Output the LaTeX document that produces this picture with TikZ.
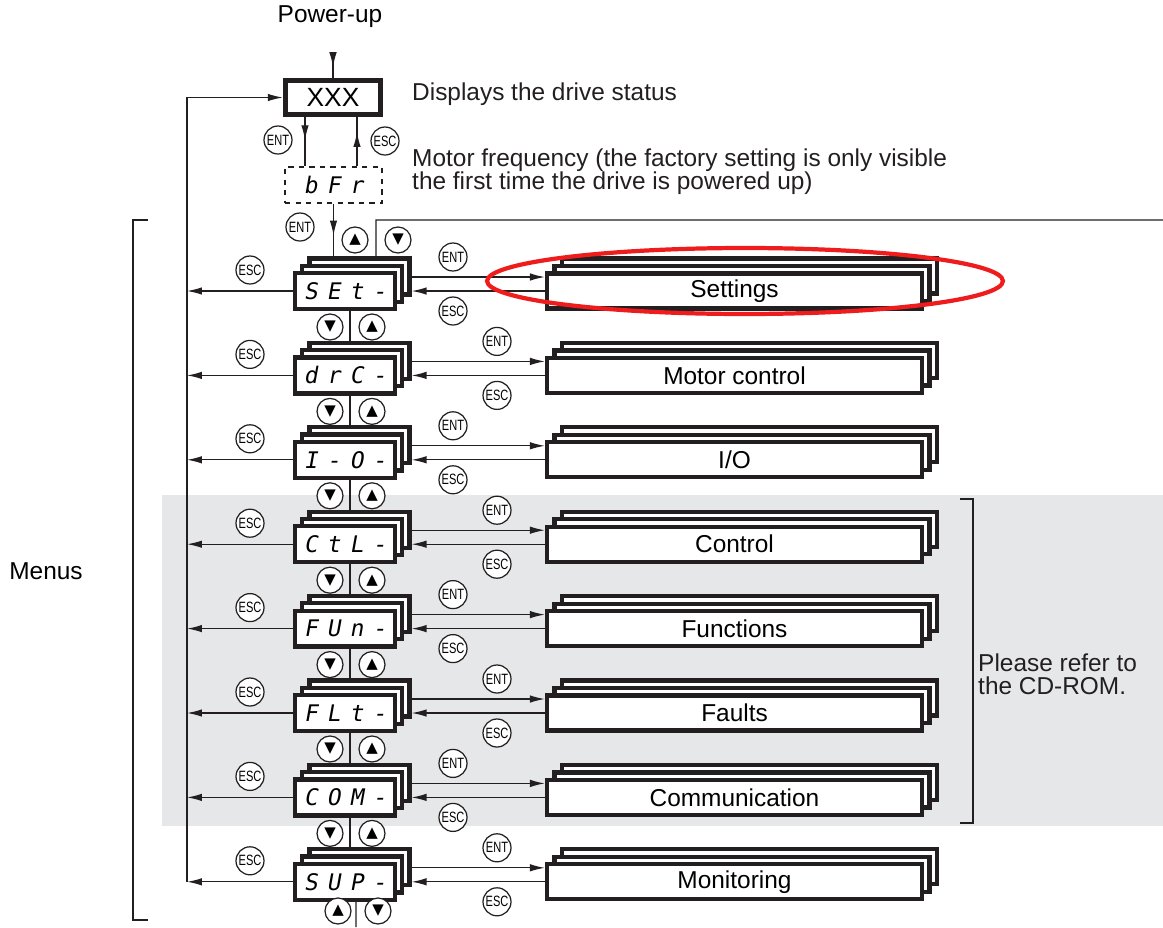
\documentclass[tikz,border=0pt]{standalone}
\usepackage{fontspec}
\setmainfont{Liberation Sans}
\newfontfamily\segfont[FakeSlant=0.18,LetterSpace=40]{DejaVu Sans Mono}
\newfontfamily\keyfont[FakeStretch=0.74]{Liberation Sans}
\newfontfamily\symfont{DejaVu Sans}
\usetikzlibrary{arrows.meta,positioning,backgrounds,decorations.markings}
\definecolor{panelGray}{HTML}{E6E7E8}
\definecolor{markRed}{HTML}{EE1C1C}
\definecolor{lineDark}{HTML}{231F20}

\begin{document}
\begin{tikzpicture}[
    x=0.02cm, y=-0.02cm,
    font=\fontsize{13.9}{13.2}\selectfont,
    >={Latex[length=0.3cm,width=0.15cm]},
    layered/.style={
        preaction={draw=lineDark, fill=white, line width=2.4pt,
                   transform canvas={xshift=2*#1, yshift=2*#1}},
        preaction={draw=lineDark, fill=white, line width=2.4pt,
                   transform canvas={xshift=#1, yshift=#1}}
    },
    displayNode/.style={
        rectangle, draw=lineDark, line width=3pt, fill=white,
        minimum width=1.9cm, minimum height=0.68cm, inner sep=0pt,
        font=\fontsize{15}{15}\selectfont
    },
    freqNode/.style={
        rectangle, draw=lineDark, line width=0.7pt, dashed, fill=white,
        minimum width=1.94cm, minimum height=0.72cm, inner sep=0pt,
        font=\segfont\fontsize{13}{13}\selectfont
    },
    menuNode/.style={
        rectangle, draw=lineDark, line width=2.4pt, fill=white,
        minimum width=2.0cm, minimum height=0.72cm, inner sep=0pt,
        font=\segfont\fontsize{13}{13}\selectfont,
        layered=0.145cm
    },
    subNode/.style={
        rectangle, draw=lineDark, line width=2.4pt, fill=white,
        minimum width=7.5cm, minimum height=0.7cm, inner sep=0pt,
        layered=0.15cm
    },
    keyNode/.style={
        circle, draw=lineDark, line width=0.7pt, fill=white,
        minimum size=0.56cm, inner sep=0pt,
        font=\keyfont\fontsize{8.5}{8.5}\selectfont
    },
    navKey/.style={
        circle, draw=lineDark, line width=0.7pt, fill=white,
        minimum size=0.52cm, inner sep=0pt,
        font=\symfont\fontsize{8.5}{8.5}\selectfont
    },
    textNote/.style={anchor=west, align=left, text=lineDark},
    flow/.style={->, line width=0.75pt, draw=lineDark},
    link/.style={line width=0.75pt, draw=lineDark},
    tipAt/.style={
        link,
        decoration={markings, mark=at position #1 with {\arrow{Latex[length=0.3cm,width=0.15cm]}}},
        postaction={decorate}
    }
]
\useasboundingbox (0,0) rectangle (1163,927);

% grey band: menus that are described on the CD-ROM
\begin{scope}[on background layer]
  \fill[panelGray] (162,495) rectangle (1163,826);
\end{scope}

% power-up and drive status
\node (powerUp) at (330,17) {Power-up};
\node[displayNode] (XXX) at (333,97.5) {XXX};
\node[textNote] (statusNote) at (406,94) {Displays the drive status};
\node[freqNode] (bFr) at (333.5,185) {bFr};
\node[textNote] (freqNote) at (406,172)
  {Motor frequency (the factory setting is only visible\\the first time the drive is powered up)};

\node[keyNode] (entTop) at (278,140) {ENT};
\node[keyNode] (escTop) at (385,141) {ESC};
\node[keyNode] (entFreq) at (300,227) {ENT};
\node[navKey] (upTop) at (355,240) {▲};
\node[navKey] (dnTop) at (398,240) {▼};

% menu displays and their sub-menus
\node[menuNode] (mSET) at (345,291) {SEt-};
\node[menuNode] (mDRC) at (345,375.4) {drC-};
\node[menuNode] (mIO) at (345,459.8) {I-O-};
\node[menuNode] (mCTL) at (345,544.2) {CtL-};
\node[menuNode] (mFUN) at (345,628.6) {FUn-};
\node[menuNode] (mFLT) at (345,713) {FLt-};
\node[menuNode] (mCOM) at (345,797.4) {COM-};
\node[menuNode] (mSUP) at (345,881.8) {SUP-};

\node[subNode] (sSET) at (734.5,291) {Settings};
\node[subNode] (sDRC) at (734.5,375.4) {Motor control};
\node[subNode] (sIO) at (734.5,459.8) {I/O};
\node[subNode] (sCTL) at (734.5,544.2) {Control};
\node[subNode] (sFUN) at (734.5,628.6) {Functions};
\node[subNode] (sFLT) at (734.5,713) {Faults};
\node[subNode] (sCOM) at (734.5,797.4) {Communication};
\node[subNode] (sSUP) at (734.5,881.8) {Monitoring};

\node[navKey] (upEnd) at (338,911) {▲};
\node[navKey] (dnEnd) at (378,911) {▼};

\node (menusLabel) at (46,571) {Menus};
\node[textNote] (cdNote) at (972,674) {Please refer to\\the CD-ROM.};

\coordinate (railTop) at (187,97.5);
\coordinate (railBot) at (mSUP.west -| railTop);
\coordinate (loopTop) at (376,220);
\coordinate (loopEnd) at (1163,220);
\coordinate (bottomEnd) at (356,927);

% start-up path
\draw[tipAt=0.55] ([yshift=-0.4cm]powerUp.south -| XXX.north) -- (XXX.north);
\draw[tipAt=0.47] ([xshift=-0.56cm]XXX.south) -- ([xshift=-0.56cm]XXX.south |- bFr.north);
\draw[tipAt=0.7] ([xshift=0.48cm]XXX.south |- bFr.north) -- ([xshift=0.48cm]XXX.south);
\draw[tipAt=0.6] (bFr.south) -- ([yshift=0.28cm]bFr.south |- mSET.north);
\draw[link] ([xshift=0.62cm,yshift=0.28cm]mSET.north) -- (loopTop) -- (loopEnd);
\draw[link] ([xshift=0.22cm]mSUP.south) -- (bottomEnd);

% ESC back to the status display
\draw[flow] (railBot) -- (railTop) -- (XXX.west);

\foreach \nm/\yy/\kx in {SET/291/453, DRC/375.4/497, IO/459.8/453, CTL/544.2/497,
                        FUN/628.6/453, FLT/713/497, COM/797.4/453, SUP/881.8/497} {
  \node[keyNode] (escL\nm) at (250,\yy-21) {ESC};
  \node[keyNode] (ent\nm) at (\kx,\yy-34) {ENT};
  \node[keyNode] (esc\nm) at (\kx,\yy+20) {ESC};
  \draw[flow] (m\nm.west) -- (m\nm.west -| railTop);
  \draw[flow] ([xshift=0.29cm,yshift=0.28cm]m\nm.east) -- ([yshift=0.28cm]s\nm.west);
  \draw[flow] (s\nm.west) -- ([xshift=0.29cm]m\nm.east);
}

\foreach \a/\b/\yy in {SET/DRC/327, DRC/IO/411.4, IO/CTL/495.8, CTL/FUN/580.2,
                       FUN/FLT/664.6, FLT/COM/749, COM/SUP/833.4} {
  \draw[link] ([xshift=0.1cm]m\a.south) -- ([xshift=0.1cm,yshift=0.29cm]m\b.north);
  \node[navKey] (dn\a) at (330,\yy) {▼};
  \node[navKey] (up\a) at (372,\yy) {▲};
}

% brackets
\draw[link, line width=0.6pt] (148,220) -- (133,220) -- (133,920) -- (148,920);
\draw[link, line width=0.6pt] (960,499) -- (973,499) -- (973,823) -- (960,823);

% highlight
\draw[markRed, line width=2.4pt] (745,281) ellipse [x radius=5.16cm, y radius=0.66cm];

\end{tikzpicture}
\end{document}
